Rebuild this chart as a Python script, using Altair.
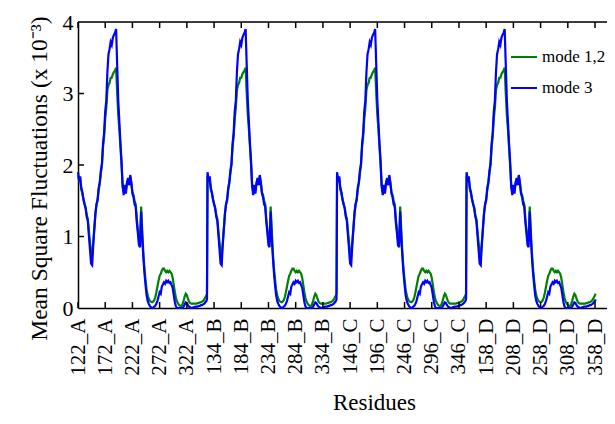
import altair as alt
import pandas as pd

# ---- data ----
# residue index within one chain (each chain: 238 residues, 122..359)
chain_index = list(range(0, 237, 2)) + [237]

mode12_profile = [
    1.85, 1.78, 1.80, 1.66, 1.60, 1.52, 1.46, 1.40, 1.30, 1.25,
    1.08, 0.92, 0.76, 0.74, 0.92, 1.12, 1.32, 1.45, 1.50, 1.65,
    1.74, 1.88, 2.00, 2.25, 2.40, 2.65, 2.80, 3.05, 3.12, 3.15,
    3.22, 3.22, 3.27, 3.30, 3.32, 3.36, 3.00, 2.70, 2.50, 2.25,
    2.00, 1.72, 1.62, 1.72, 1.65, 1.75, 1.80, 1.72, 1.84, 1.75,
    1.62, 1.58, 1.50, 1.45, 1.25, 1.10, 0.95, 0.92, 1.42, 1.08,
    0.78, 0.56, 0.40, 0.26, 0.18, 0.13, 0.10, 0.09, 0.08, 0.09,
    0.11, 0.15, 0.22, 0.30, 0.38, 0.45, 0.48, 0.52, 0.55, 0.55,
    0.52, 0.50, 0.52, 0.50, 0.52, 0.50, 0.48, 0.42, 0.32, 0.22,
    0.14, 0.09, 0.06, 0.04, 0.03, 0.03, 0.05, 0.10, 0.16, 0.20,
    0.18, 0.13, 0.09, 0.07, 0.06, 0.06, 0.06, 0.06, 0.06, 0.06,
    0.07, 0.07, 0.08, 0.08, 0.09, 0.10, 0.12, 0.15, 0.18, 0.20,
]

mode3_profile = [
    1.90, 1.80, 1.84, 1.68, 1.62, 1.52, 1.45, 1.40, 1.28, 1.22,
    1.02, 0.82, 0.62, 0.60, 0.88, 1.10, 1.32, 1.45, 1.52, 1.68,
    1.76, 1.92, 2.02, 2.30, 2.45, 2.75, 2.90, 3.30, 3.55, 3.62,
    3.72, 3.68, 3.78, 3.82, 3.85, 3.90, 3.40, 2.90, 2.60, 2.30,
    2.05, 1.70, 1.58, 1.72, 1.60, 1.75, 1.82, 1.72, 1.86, 1.75,
    1.60, 1.55, 1.45, 1.42, 1.20, 1.05, 0.88, 0.85, 1.35, 1.00,
    0.72, 0.50, 0.33, 0.18, 0.10, 0.06, 0.03, 0.01, 0.00, 0.00,
    0.02, 0.03, 0.06, 0.10, 0.16, 0.22, 0.20, 0.30, 0.33, 0.36,
    0.34, 0.38, 0.36, 0.38, 0.35, 0.36, 0.32, 0.28, 0.18, 0.08,
    0.02, 0.00, 0.00, 0.00, 0.00, 0.00, 0.00, 0.02, 0.05, 0.08,
    0.07, 0.04, 0.02, 0.01, 0.00, 0.00, 0.01, 0.01, 0.02, 0.02,
    0.02, 0.03, 0.03, 0.04, 0.04, 0.05, 0.06, 0.08, 0.10, 0.12,
]

chains = ["A", "B", "C", "D"]
chain_length = 238

tick_positions = [0, 50, 100, 150, 200, 250, 300, 350, 400, 450,
                  500, 550, 600, 650, 700, 750, 800, 850, 900, 950]
tick_labels = ["122_A", "172_A", "222_A", "272_A", "322_A",
               "134_B", "184_B", "234_B", "284_B", "334_B",
               "146_C", "196_C", "246_C", "296_C", "346_C",
               "158_D", "208_D", "258_D", "308_D", "358_D"]
y_ticks = [0, 1, 2, 3, 4]
y_inner_ticks = [1, 2, 3]

series_names = ["mode 1,2", "mode 3"]
series_colors = ["#008000", "#0000ff"]

# ---- build tables ----
rows12, rows3 = [], []
for c, ch in enumerate(chains):
    for i, v12, v3 in zip(chain_index, mode12_profile, mode3_profile):
        pos = c * chain_length + i
        rows12.append({"pos": pos, "msf": v12, "series": series_names[0]})
        rows3.append({"pos": pos, "msf": v3, "series": series_names[1]})
df12 = pd.DataFrame(rows12)
df3 = pd.DataFrame(rows3)
ticks_df = pd.DataFrame({"pos": tick_positions})
yt_df = pd.DataFrame({"msf": y_inner_ticks})

W, H = 529, 286
FONT = "Liberation Serif"

label_expr = "[" + ",".join(f"'{l}'" for l in tick_labels) + "][round(datum.value/50)]"

x_scale = alt.Scale(domain=[0, 972], nice=False, zero=False)
y_scale = alt.Scale(domain=[0, 4], nice=False)
color_scale = alt.Scale(domain=series_names, range=series_colors)

x_axis = alt.Axis(values=tick_positions, labelExpr=label_expr, labelAngle=270,
                  labelAlign="right", labelBaseline="middle", labelPadding=10,
                  ticks=False, grid=False, domainColor="black", domainWidth=1.5,
                  labelFont=FONT, labelFontSize=21, labelColor="black",
                  labelOverlap=False, labelFlush=False, labelBound=False,
                  title="Residues", titleFont=FONT, titleFontSize=23,
                  titleFontWeight="normal", titleColor="black",
                  titleX=296, titleY=101, titleAlign="center",
                  titleBaseline="alphabetic")
y_axis = alt.Axis(values=y_ticks, format="d", ticks=False, grid=False,
                  domainColor="black", domainWidth=1.5, labelFont=FONT,
                  labelFontSize=22, labelColor="black", labelPadding=5,
                  labelOverlap=False, labelFlush=False,
                  title="Mean Square Fluctuations (x 10\u207b\u00b3)",
                  titleFont=FONT, titleFontSize=23.5, titleFontWeight="normal",
                  titleColor="black", titleAngle=270, titleX=-32, titleY=156,
                  titleAlign="center", titleBaseline="alphabetic")

legend = alt.Legend(title=None, orient="none", legendX=432, legendY=21,
                    symbolType="stroke", symbolSize=676, symbolStrokeWidth=2,
                    labelFont=FONT, labelFontSize=17, labelColor="black",
                    rowPadding=9, labelOffset=4)

X = alt.X("pos:Q", scale=x_scale, axis=x_axis)
Y = alt.Y("msf:Q", scale=y_scale, axis=y_axis)

line12 = alt.Chart(df12).mark_line(strokeWidth=2.2).encode(
    x=X, y=Y,
    color=alt.Color("series:N", scale=color_scale, legend=legend),
)
line3 = alt.Chart(df3).mark_line(strokeWidth=2.2).encode(
    x=X, y=Y,
    color=alt.Color("series:N", scale=color_scale, legend=legend),
)

bottom_ticks = alt.Chart(ticks_df).mark_rule(color="black", strokeWidth=1.5).encode(
    x=X, y=alt.value(H), y2=alt.value(H - 6))
top_ticks = alt.Chart(ticks_df).mark_rule(color="black", strokeWidth=1.5).encode(
    x=X, y=alt.value(0), y2=alt.value(6))
left_ticks = alt.Chart(yt_df).mark_rule(color="black", strokeWidth=1.5).encode(
    y=Y, x=alt.value(0), x2=alt.value(6))
top_border = alt.Chart(pd.DataFrame({"a": [0]})).mark_rule(
    color="black", strokeWidth=1.5).encode(
    x=alt.value(0), x2=alt.value(W), y=alt.value(0))

chart = alt.layer(line12, line3, bottom_ticks, top_ticks, left_ticks, top_border).properties(
    width=W, height=H,
    autosize=alt.AutoSizeParams(type="none"),
    padding={"left": 70, "top": 14, "right": 0, "bottom": 108},
).configure_view(stroke=None).configure(background="white")

chart.save("out.html", embed_options={"renderer": "svg", "actions": False})
